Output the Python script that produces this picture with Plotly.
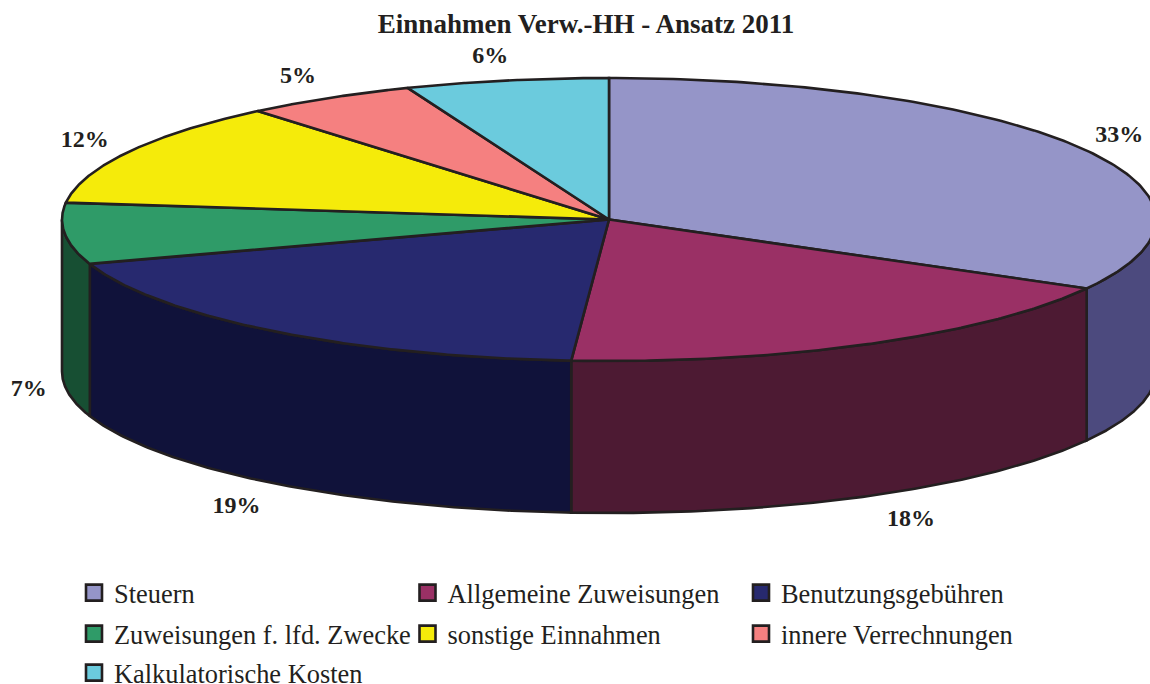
import numpy as np
import plotly.graph_objects as go

# Data
categories = ["Steuern", "Allgemeine Zuweisungen", "Benutzungsgebühren",
              "Zuweisungen f. lfd. Zwecke", "sonstige Einnahmen",
              "innere Verrechnungen", "Kalkulatorische Kosten"]
shares = [33.1, 18.0, 18.8, 7.0, 12.0, 5.1, 6.0]
share_labels = ["33%", "18%", "19%", "7%", "12%", "5%", "6%"]
top_colors = ["#9595c8", "#9a3065", "#27296f", "#2f9b68", "#f5eb0a", "#f58080", "#6bcbdd"]
side_colors = ["#4c4a7e", "#4d1a33", "#10123a", "#174f33", "#7a7505", "#7a4040", "#35656e"]

TITLE = "Einnahmen Verw.-HH - Ansatz 2011"
FONT = "Liberation Serif"
INK = "#231f20"

W, H = 1150, 684


def px(x):
    return x / W


def py(y):
    return 1 - y / H


# Pie geometry (axis units = reference pixels)
CX, CY, RX, RY, DEPTH = 609, 219.5, 547, 141.5, 152
LW = 2.6

# Label placement tuning (pixels, relative to the mid-angle position)
label_nudge_x = [-4, 18, -7, 13, 0, -6, -7]
label_nudge_y = [1, 2, 4, 2, 1, 1, 2]

vals = np.array(shares, dtype=float)
edges = np.concatenate([[0], np.cumsum(vals)]) / vals.sum() * 2 * np.pi


def pt(t, dy=0.0):
    return CX + RX * np.sin(t), CY - RY * np.cos(t) + dy


fig = go.Figure()

# side walls: only the front half of the rim is visible
for i in range(len(vals)):
    a = max(edges[i], np.pi / 2)
    b = min(edges[i + 1], 3 * np.pi / 2)
    if b <= a:
        continue
    t = np.linspace(a, b, 120)
    x1, y1 = pt(t)
    x2, y2 = pt(t[::-1], DEPTH)
    fig.add_trace(go.Scatter(
        x=np.concatenate([x1, x2, x1[:1]]), y=np.concatenate([y1, y2, y1[:1]]),
        mode="lines", fill="toself", fillcolor=side_colors[i],
        line=dict(color=INK, width=LW), showlegend=False, hoverinfo="skip"))

# top face wedges
for i in range(len(vals)):
    t = np.linspace(edges[i], edges[i + 1], 160)
    x, y = pt(t)
    fig.add_trace(go.Scatter(
        x=np.concatenate([[CX], x, [CX]]), y=np.concatenate([[CY], y, [CY]]),
        mode="lines", fill="toself", fillcolor=top_colors[i],
        line=dict(color=INK, width=LW), showlegend=False,
        name=categories[i], hoverinfo="name"))

# percentage labels follow the mid angle of each wedge
mid = (edges[:-1] + edges[1:]) / 2
lab_x = CX + 1.09 * RX * np.sin(mid) + np.array(label_nudge_x)
lab_y = CY - 1.18 * RY * np.cos(mid) + np.where(np.cos(mid) < 0, DEPTH, 0) + np.array(label_nudge_y)
fig.add_trace(go.Scatter(
    x=lab_x, y=lab_y, mode="text", text=share_labels, showlegend=False,
    textposition="middle center", hoverinfo="skip",
    textfont=dict(family=FONT, size=24, color=INK, weight="bold")))

# legend entries: one legend per row so the row spacing can follow the reference
ROW_Y = [593, 634, 673]
legends = {}
for r, y in enumerate(ROW_Y):
    key = "legend" if r == 0 else f"legend{r + 1}"
    legends[key] = dict(orientation="h", x=px(74), xanchor="left", y=py(y), yanchor="middle",
                        entrywidth=288.5, entrywidthmode="pixels", borderwidth=0,
                        bgcolor="rgba(0,0,0,0)", traceorder="normal",
                        font=dict(family=FONT, size=26.4, color=INK))

for i, (name, c) in enumerate(zip(categories, top_colors)):
    r = i // 3
    fig.add_trace(go.Scatter(
        x=[None], y=[None], mode="markers", name=name,
        legend="legend" if r == 0 else f"legend{r + 1}",
        marker=dict(symbol="square", size=16, color=c, line=dict(color=INK, width=2.6))))

fig.update_layout(
    width=W, height=H, margin=dict(l=0, r=0, t=0, b=0, autoexpand=False),
    paper_bgcolor="white", plot_bgcolor="white",
    xaxis=dict(range=[0, W], visible=False, fixedrange=True),
    yaxis=dict(range=[H, 0], visible=False, fixedrange=True),
    title=dict(text=TITLE, x=px(586), xanchor="center", y=py(24), yanchor="middle",
               font=dict(family=FONT, size=27, color=INK, weight="bold")),
    showlegend=True,
    **legends,
)

# page body default margin would otherwise shift the figure and add scrollbars
fig.write_html("out.html",
               config={"displayModeBar": False},
               post_script="document.body.style.margin='0';"
                           "document.documentElement.style.overflow='hidden';")
